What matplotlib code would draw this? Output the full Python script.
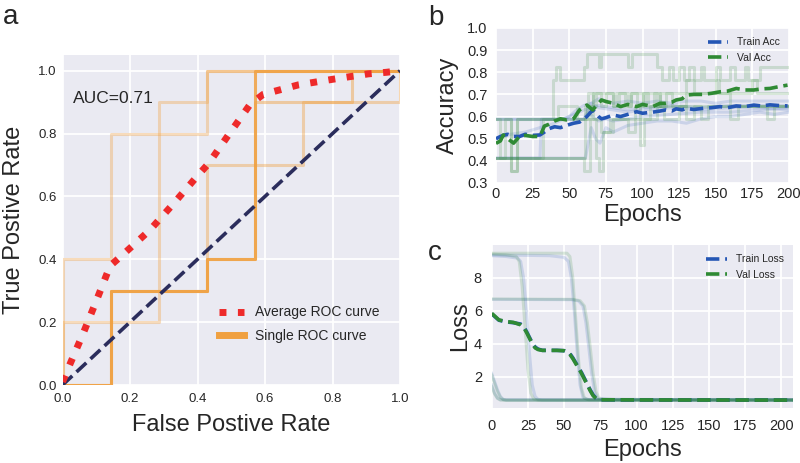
import matplotlib
matplotlib.use('Agg')
import matplotlib.pyplot as plt
from matplotlib.lines import Line2D

plt.rcParams['font.family'] = ['Liberation Sans', 'DejaVu Sans']
plt.rcParams['text.color'] = '#262626'
plt.rcParams['axes.labelcolor'] = '#262626'
plt.rcParams['xtick.color'] = '#262626'
plt.rcParams['ytick.color'] = '#262626'

BG = '#EAEAF2'
ORANGE = '#f0a040'
RED = '#ee2a2a'
NAVY = '#2b2d5c'
BLUE = '#2456b4'
GREEN = '#2f8a34'

# ---------------- panel a: ROC curves ----------------
fold_fpr = [
    [0, 0.143, 0.143, 0.429, 0.429, 0.571, 0.571, 1.0],
    [0, 0.0, 0.143, 0.143, 0.429, 0.429, 1.0],
    [0, 0.0, 0.286, 0.286, 0.429, 0.429, 1.0],
    [0, 0.143, 0.143, 0.429, 0.429, 0.714, 0.714, 1.0, 1.0],
    [0, 0.143, 0.143, 0.429, 0.429, 0.571, 0.571, 0.857, 0.857, 1.0],
]
fold_tpr = [
    [0, 0.0, 0.3, 0.3, 0.4, 0.4, 1.0, 1.0],
    [0, 0.4, 0.4, 0.8, 0.8, 1.0, 1.0],
    [0, 0.2, 0.2, 0.9, 0.9, 1.0, 1.0],
    [0, 0.0, 0.3, 0.3, 0.7, 0.7, 0.9, 0.9, 1.0],
    [0, 0.0, 0.3, 0.3, 0.4, 0.4, 0.9, 0.9, 1.0, 1.0],
]
fold_alpha = [0.85, 0.35, 0.35, 0.4, 0.45]

mean_fpr = [0.0, 0.02, 0.062, 0.101, 0.141, 0.18, 0.259, 0.328, 0.398, 0.433,
            0.494, 0.556, 0.595, 0.699, 0.802, 0.906, 0.96, 1.0]
mean_tpr = [0.01, 0.061, 0.166, 0.27, 0.379, 0.416, 0.493, 0.576, 0.663, 0.705,
            0.799, 0.893, 0.925, 0.955, 0.973, 0.99, 0.995, 1.0]
auc_value = 0.71

# ---------------- panel b: accuracy ----------------
train_acc_x = [
    [0, 60, 62, 65, 70, 75, 80, 90, 100, 110, 120, 130, 140, 150, 160, 170, 180, 190, 200],
    [0, 30, 31, 45, 50, 55, 60, 65, 70, 80, 90, 100, 120, 140, 160, 180, 200],
    [0, 61, 65, 68, 71, 75, 80, 90, 100, 110, 120, 130, 140, 150, 160, 170, 180, 190, 200],
    [0, 10, 20, 30, 40, 50, 60, 70, 80, 90, 100, 120, 140, 160, 180, 200],
    [0, 60, 63, 66, 70, 75, 80, 90, 100, 120, 140, 160, 180, 200],
]
train_acc_y = [
    [0.588, 0.588, 0.62, 0.66, 0.68, 0.67, 0.66, 0.67, 0.66, 0.67, 0.66, 0.67, 0.67, 0.66, 0.67, 0.67, 0.67, 0.67, 0.67],
    [0.412, 0.412, 0.588, 0.588, 0.60, 0.63, 0.65, 0.66, 0.64, 0.63, 0.62, 0.63, 0.64, 0.63, 0.64, 0.64, 0.63],
    [0.412, 0.412, 0.55, 0.50, 0.48, 0.55, 0.53, 0.56, 0.57, 0.58, 0.58, 0.57, 0.59, 0.60, 0.60, 0.61, 0.62, 0.61, 0.62],
    [0.50, 0.52, 0.53, 0.55, 0.57, 0.60, 0.63, 0.65, 0.64, 0.63, 0.64, 0.65, 0.64, 0.65, 0.65, 0.65],
    [0.588, 0.588, 0.62, 0.60, 0.58, 0.59, 0.58, 0.59, 0.60, 0.61, 0.62, 0.62, 0.63, 0.64],
]
val_acc_x = [
    [0, 3, 10, 14, 39, 41, 44, 60, 62, 70, 72, 90, 93, 110, 113, 118, 121, 125, 128, 132, 135,
     140, 142, 150, 153, 160, 163, 170, 172, 180, 183, 200],
    [0, 60, 64, 66, 80, 82, 90, 92, 100, 102, 110, 112, 130, 135, 150, 152, 175, 178, 200],
    [0, 3, 6, 10, 14, 42, 55, 68, 70, 73, 80, 90, 95, 105, 115, 125, 140, 145, 185, 190, 200],
    [0, 32, 62, 66, 72, 78, 95, 98, 101, 110, 130, 135, 160, 165, 200],
    [0, 61, 63, 66, 68, 72, 75, 80, 84, 88, 92, 96, 100, 104, 108, 112, 116, 120, 130, 150, 160, 200],
]
val_acc_y = [
    [0.588, 0.588, 0.353, 0.588, 0.765, 0.824, 0.765, 0.824, 0.882, 0.824, 0.882, 0.824, 0.882, 0.824, 0.765, 0.824,
     0.765, 0.824, 0.765, 0.824, 0.765, 0.824, 0.765, 0.824, 0.765, 0.824, 0.765, 0.824, 0.765, 0.824, 0.824, 0.824],
    [0.412, 0.353, 0.647, 0.706, 0.647, 0.706, 0.647, 0.706, 0.647, 0.706, 0.647, 0.706, 0.765, 0.706, 0.765, 0.706,
     0.765, 0.706, 0.706],
    [0.588, 0.412, 0.588, 0.353, 0.588, 0.647, 0.588, 0.412, 0.353, 0.529, 0.588, 0.529, 0.588, 0.647, 0.588, 0.647,
     0.588, 0.647, 0.588, 0.647, 0.647],
    [0.412, 0.588, 0.647, 0.588, 0.529, 0.588, 0.647, 0.471, 0.588, 0.647, 0.588, 0.647, 0.588, 0.647, 0.647],
    [0.412, 0.647, 0.706, 0.647, 0.706, 0.647, 0.706, 0.647, 0.706, 0.647, 0.706, 0.647, 0.706, 0.647, 0.706, 0.647,
     0.706, 0.647, 0.706, 0.706, 0.647, 0.647],
]
mean_epochs = [0, 3, 5, 8, 12, 16, 20, 25, 30, 33, 36, 40, 44, 48, 53, 57, 62, 66, 70, 72, 75, 80, 85, 90, 96,
               100, 107, 112, 116, 120, 123, 127, 130, 135, 141, 147, 153, 158, 164, 170, 176, 181, 187, 193, 199]
mean_train_acc = [0.50, 0.51, 0.515, 0.52, 0.51, 0.51, 0.52, 0.515, 0.517, 0.53, 0.545, 0.554, 0.55, 0.56, 0.57,
                  0.575, 0.60, 0.63, 0.60, 0.59, 0.595, 0.607, 0.60, 0.61, 0.622, 0.615, 0.62, 0.625, 0.63, 0.625,
                  0.635, 0.63, 0.637, 0.632, 0.637, 0.64, 0.645, 0.64, 0.648, 0.645, 0.652, 0.648, 0.653, 0.65, 0.648]
mean_val_acc = [0.479, 0.49, 0.517, 0.50, 0.48, 0.51, 0.515, 0.51, 0.51, 0.557, 0.565, 0.58, 0.59, 0.585, 0.59,
                0.63, 0.652, 0.63, 0.66, 0.675, 0.668, 0.66, 0.645, 0.655, 0.645, 0.655, 0.645, 0.66, 0.66, 0.665,
                0.675, 0.68, 0.697, 0.70, 0.70, 0.705, 0.712, 0.715, 0.727, 0.72, 0.72, 0.725, 0.727, 0.735, 0.742]

# ---------------- panel c: loss ----------------
train_loss_x = [
    [0, 10, 18, 20, 22, 24, 26, 28, 30, 32, 35, 208],
    [0, 40, 50, 53, 55, 57, 59, 61, 63, 66, 208],
    [0, 55, 60, 63, 65, 67, 69, 71, 73, 76, 208],
    [0, 2, 4, 6, 8, 10, 208],
    [0, 2, 4, 6, 208],
]
train_loss_y = [
    [9.35, 9.3, 9.2, 9.0, 8.0, 6.0, 3.5, 1.5, 0.8, 0.62, 0.58, 0.58],
    [9.4, 9.35, 9.25, 9.0, 8.0, 6.0, 3.5, 1.5, 0.75, 0.62, 0.6],
    [6.7, 6.68, 6.6, 6.3, 5.3, 3.8, 2.2, 1.1, 0.7, 0.62, 0.6],
    [2.2, 1.7, 1.2, 0.8, 0.62, 0.58, 0.58],
    [1.5, 1.0, 0.7, 0.6, 0.58],
]
val_loss_x = [
    [0, 10, 17, 19, 21, 23, 25, 27, 29, 32, 208],
    [0, 52, 54, 56, 58, 60, 62, 64, 67, 208],
    [0, 56, 61, 64, 66, 68, 70, 72, 74, 77, 208],
    [0, 2, 4, 6, 8, 10, 208],
    [0, 2, 4, 6, 208],
]
val_loss_y = [
    [9.45, 9.4, 9.3, 9.0, 7.5, 5.0, 2.5, 1.0, 0.65, 0.58, 0.57],
    [9.5, 9.5, 9.3, 8.0, 5.5, 3.0, 1.3, 0.7, 0.6, 0.6],
    [6.72, 6.7, 6.62, 6.3, 5.3, 3.8, 2.2, 1.1, 0.72, 0.62, 0.6],
    [2.1, 1.6, 1.1, 0.75, 0.6, 0.57, 0.57],
    [1.4, 0.95, 0.68, 0.58, 0.57],
]
loss_epochs = [0, 5, 10, 15, 20, 22, 24, 26, 28, 30, 32, 35, 40, 45, 50, 52, 54, 56, 58, 60, 62, 64, 66, 68, 70,
               72, 75, 80, 100, 208]
mean_train_loss = [5.82, 5.43, 5.33, 5.28, 5.2, 5.05, 4.75, 4.4, 4.05, 3.8, 3.68, 3.6, 3.6, 3.6, 3.58, 3.52,
                   3.4, 3.15, 2.85, 2.55, 2.25, 1.9, 1.55, 1.2, 0.9, 0.7, 0.61, 0.6, 0.59, 0.58]
mean_val_loss = [5.85, 5.45, 5.35, 5.3, 5.15, 5.0, 4.7, 4.35, 4.0, 3.75, 3.65, 3.6, 3.6, 3.6, 3.58, 3.5, 3.35,
                 3.1, 2.8, 2.5, 2.2, 1.85, 1.5, 1.15, 0.85, 0.68, 0.6, 0.6, 0.59, 0.58]


def style_axes(ax, labelsize):
    ax.set_facecolor(BG)
    ax.grid(True, color='white', linewidth=1.3)
    ax.set_axisbelow(True)
    for s in ax.spines.values():
        s.set_visible(False)
    ax.tick_params(length=0, labelsize=labelsize)


fig = plt.figure(figsize=(8, 4.63), dpi=100)

# panel a
ax1 = fig.add_axes([62.5 / 800, 1 - 385 / 463, 337.5 / 800, 330 / 463])
style_axes(ax1, 9.5)
ax1.tick_params(axis='x', pad=6)
ax1.tick_params(axis='y', pad=4)
for fx, ty, al in zip(fold_fpr, fold_tpr, fold_alpha):
    ax1.plot(fx, ty, color=ORANGE, alpha=al, lw=2.2)
ax1.plot([0, 1], [0, 1], color=NAVY, lw=2.6, ls='--')
ax1.plot(mean_fpr, mean_tpr, color=RED, lw=5, ls=':')
ax1.text(0.03, 0.913, 'AUC=%.2f' % auc_value, fontsize=12.5, va='center', ha='left')
ax1.set_xlim(0, 1.0)
ax1.set_ylim(0, 1.05)
ax1.set_xticks([0, 0.2, 0.4, 0.6, 0.8, 1.0])
ax1.set_yticks([0, 0.2, 0.4, 0.6, 0.8, 1.0])
ax1.set_xlabel('False Postive Rate', fontsize=17, labelpad=6)
ax1.set_ylabel('True Postive Rate', fontsize=17, labelpad=10)
handles_a = [Line2D([], [], color=RED, lw=5, ls=':'),
             Line2D([], [], color=ORANGE, lw=5)]
ax1.legend(handles_a, ['Average ROC curve', 'Single ROC curve'], loc='lower left',
           frameon=False, fontsize=10, bbox_to_anchor=(0.465, 0.127), borderaxespad=0,
           borderpad=0, handlelength=1.8, handletextpad=0.75, labelspacing=0.7)

# panel b
ax2 = fig.add_axes([496 / 800, 1 - 183 / 463, 293 / 800, 155 / 463])
style_axes(ax2, 10.5)
ax2.tick_params(axis='x', pad=3)
ax2.tick_params(axis='y', pad=6)
for xs, ys in zip(train_acc_x, train_acc_y):
    ax2.plot(xs, ys, color=BLUE, alpha=0.16, lw=2.2)
for xs, ys in zip(val_acc_x, val_acc_y):
    ax2.plot(xs, ys, color=GREEN, alpha=0.18, lw=2.2, drawstyle='steps-post')
ax2.plot(mean_epochs, mean_train_acc, color=BLUE, lw=2.6, ls='--', label='Train Acc')
ax2.plot(mean_epochs, mean_val_acc, color=GREEN, lw=2.6, ls='--', label='Val Acc')
ax2.set_xlim(0, 200)
ax2.set_ylim(0.3, 1.0)
ax2.set_xticks(range(0, 201, 25))
ax2.set_yticks([0.3, 0.4, 0.5, 0.6, 0.7, 0.8, 0.9, 1.0])
ax2.set_xlabel('Epochs', fontsize=17, labelpad=2)
ax2.set_ylabel('Accuracy', fontsize=17, labelpad=6)
ax2.legend(loc='upper right', frameon=False, fontsize=7.5)

# panel c
ax3 = fig.add_axes([491.7 / 800, 1 - 408 / 463, 301.3 / 800, 163 / 463])
style_axes(ax3, 10.5)
ax3.tick_params(axis='x', pad=8)
ax3.tick_params(axis='y', pad=7)
for xs, ys in zip(train_loss_x, train_loss_y):
    ax3.plot(xs, ys, color=BLUE, alpha=0.17, lw=2.2)
for xs, ys in zip(val_loss_x, val_loss_y):
    ax3.plot(xs, ys, color=GREEN, alpha=0.17, lw=2.2)
ax3.plot(loss_epochs, mean_train_loss, color=BLUE, lw=2.6, ls='--', label='Train Loss')
ax3.plot(loss_epochs, mean_val_loss, color=GREEN, lw=2.6, ls='--', label='Val Loss')
ax3.set_xlim(0, 208)
ax3.set_ylim(0.1, 10.0)
ax3.set_xticks(range(0, 201, 25))
ax3.set_yticks([2, 4, 6, 8])
ax3.set_xlabel('Epochs', fontsize=17, labelpad=4)
ax3.set_ylabel('Loss', fontsize=17, labelpad=2)
ax3.legend(loc='upper right', frameon=False, fontsize=7.5)

# panel letters
fig.text(3 / 800, 1 - 24 / 463, 'a', fontsize=20, ha='left', va='baseline')
fig.text(428 / 800, 1 - 25 / 463, 'b', fontsize=20, ha='left', va='baseline')
fig.text(428 / 800, 1 - 260 / 463, 'c', fontsize=20, ha='left', va='baseline')

fig.savefig('out.png', dpi=100)
